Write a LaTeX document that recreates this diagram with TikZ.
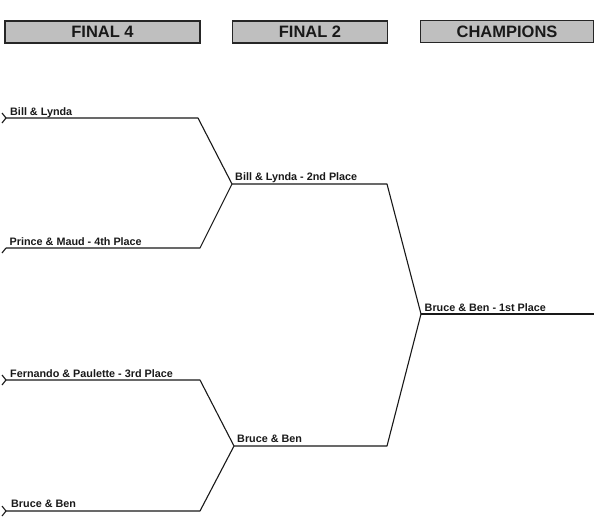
\documentclass[tikz,border=0pt]{standalone}
\usepackage{fontspec}
\setmainfont{Liberation Sans}
\begin{document}
\begin{tikzpicture}[x=1pt,y=-1pt,
  hdr/.style={draw=black!85,line width=1.6pt,fill=black!25,minimum height=22pt,inner sep=0pt,
    font=\fontsize{16.5}{18}\selectfont\bfseries,text=black!90},
  lbl/.style={anchor=base west,inner sep=0pt,font=\fontsize{10.8}{12}\selectfont\bfseries,text=black!90},
  br/.style={draw=black!90,line width=1.1pt,line join=round}]
\useasboundingbox (0,0) rectangle (604,524);
% headers
\node[hdr,minimum width=195pt] (h1) at (102.5,32) {FINAL 4};
\node[hdr,minimum width=155pt] (h2) at (310,32) {FINAL 2};
\node[hdr,minimum width=173pt] (h3) at (507,31.5) {CHAMPIONS};
% bracket points
\coordinate (a0) at (6,118);   \coordinate (a1) at (198,118);
\coordinate (b0) at (6,248);   \coordinate (b1) at (200,248);
\coordinate (m1) at (232,184); \coordinate (m1e) at (387,184);
\coordinate (c0) at (6,380);   \coordinate (c1) at (200,380);
\coordinate (d0) at (6,511);   \coordinate (d1) at (200,511);
\coordinate (m2) at (234,446); \coordinate (m2e) at (387,446);
\coordinate (w) at (421,314);  \coordinate (we) at (594,314);
% connectors
\draw[br] (a0) -- (a1) -- (m1);
\draw[br] (b0) -- (b1) -- (m1);
\draw[br] (m1) -- (m1e) -- (w);
\draw[br] (c0) -- (c1) -- (m2);
\draw[br] (d0) -- (d1) -- (m2);
\draw[br] (m2) -- (m2e) -- (w);
\draw[br] (w) -- (we);
% chevrons at the left ends
\draw[br] (a0) ++(-4,-5) -- (a0) -- ++(-4,5);
\draw[br] (b0) -- ++(-4,5);
\draw[br] (c0) ++(-4,-5) -- (c0) -- ++(-4,5);
\draw[br] (d0) ++(-4,-5) -- (d0) -- ++(-4,5);
% labels
\node[lbl] (l1) at (10,115) {Bill \& Lynda};
\node[lbl] (l2) at (9.5,245) {Prince \& Maud - 4th Place};
\node[lbl] (l3) at (235,180.5) {Bill \& Lynda - 2nd Place};
\node[lbl] (l4) at (424.5,311) {Bruce \& Ben - 1st Place};
\node[lbl] (l5) at (10,377) {Fernando \& Paulette - 3rd Place};
\node[lbl] (l6) at (237,442) {Bruce \& Ben};
\node[lbl] (l7) at (11,507.5) {Bruce \& Ben};
\end{tikzpicture}
\end{document}
